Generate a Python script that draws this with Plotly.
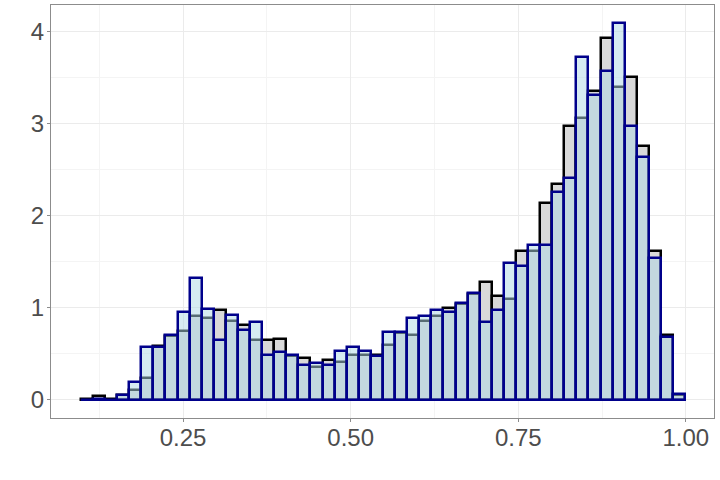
import plotly.graph_objects as go

bin_left = 0.0975
bin_width = 0.01803
n_bins = 50
centers = [bin_left + bin_width * (i + 0.5) for i in range(n_bins)]

gray_density = [0.01, 0.04, 0.01, 0.05, 0.10, 0.23, 0.585, 0.69, 0.75, 0.91,
                0.89, 0.97, 0.85, 0.81, 0.65, 0.65, 0.66, 0.47, 0.45, 0.35,
                0.43, 0.41, 0.49, 0.48, 0.49, 0.59, 0.72, 0.70, 0.86, 0.91,
                1.00, 1.04, 1.15, 1.28, 1.13, 1.09, 1.62, 1.62, 2.14, 2.34,
                2.97, 3.06, 3.36, 3.93, 3.40, 3.51, 2.76, 1.62, 0.70, 0.05]

blue_density = [0.0, 0.01, 0.0, 0.055, 0.19, 0.57, 0.575, 0.70, 0.95, 1.32,
                0.99, 0.65, 0.92, 0.76, 0.84, 0.49, 0.52, 0.48, 0.38, 0.40,
                0.38, 0.53, 0.57, 0.53, 0.47, 0.74, 0.73, 0.89, 0.91, 0.97,
                0.95, 1.05, 1.16, 0.845, 0.97, 1.49, 1.45, 1.68, 1.68, 2.26,
                2.41, 3.73, 3.31, 3.57, 4.09, 2.98, 2.64, 1.54, 0.68, 0.06]

x_ticks = [0.25, 0.50, 0.75, 1.00]
x_tick_labels = ["0.25", "0.50", "0.75", "1.00"]
y_ticks = [0, 1, 2, 3, 4]
y_tick_labels = ["0", "1", "2", "3", "4"]

fig = go.Figure()
fig.add_trace(go.Bar(
    x=centers, y=gray_density, width=[bin_width] * n_bins,
    marker=dict(color="#D9D9D9", line=dict(color="black", width=2.5)),
    showlegend=False,
))
fig.add_trace(go.Bar(
    x=centers, y=blue_density, width=[bin_width] * n_bins,
    marker=dict(color="rgba(173,216,230,0.5)", line=dict(color="#00008B", width=2.5)),
    showlegend=False,
))

font = dict(family="Liberation Sans, Arial, sans-serif", size=24, color="#4D4D4D")
axis_common = dict(
    showline=True, linecolor="#8C8C8C", linewidth=1, mirror=True,
    ticks="outside", ticklen=3, tickcolor="#8C8C8C", tickwidth=1,
    showgrid=True, gridcolor="#EBEBEB", gridwidth=1,
    zeroline=False, tickfont=font, automargin=False,
)
fig.update_layout(
    width=720, height=480,
    margin=dict(l=51, r=6, t=5, b=62),
    paper_bgcolor="white", plot_bgcolor="white",
    barmode="overlay", bargap=0,
    xaxis=dict(range=[0.053, 1.042], tickvals=x_ticks, ticktext=x_tick_labels,
               ticklabelstandoff=-5,
               minor=dict(tickvals=[0.125, 0.375, 0.625, 0.875], showgrid=True,
                          gridcolor="#F4F4F4", gridwidth=1, ticks=""),
               **axis_common),
    yaxis=dict(range=[-0.2, 4.29], tickvals=y_ticks, ticktext=y_tick_labels,
               ticklabelstandoff=-2,
               minor=dict(tickvals=[0.5, 1.5, 2.5, 3.5], showgrid=True,
                          gridcolor="#F4F4F4", gridwidth=1, ticks=""),
               **axis_common),
)
fig.write_html(
    "out.html",
    config={"responsive": False, "displayModeBar": False},
    post_script="document.body.style.margin='0';document.body.style.overflow='hidden';",
)
